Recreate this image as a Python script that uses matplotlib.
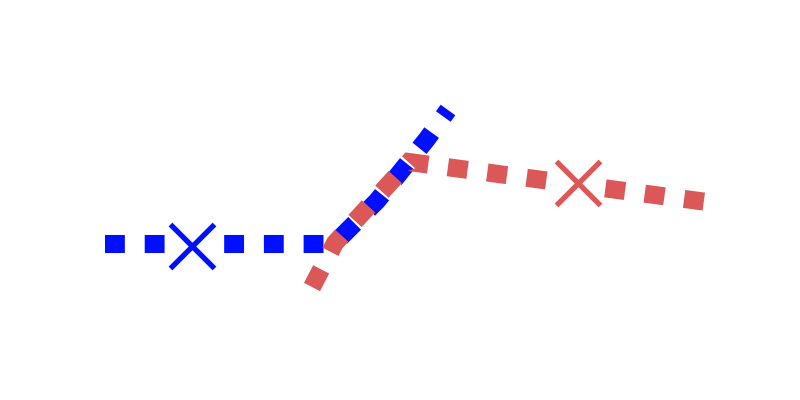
import matplotlib
matplotlib.use("Agg")
import matplotlib.pyplot as plt

# data (pixel-like units, y grows downward)
blue_x = [105, 334, 377, 427, 448]
blue_y = [244, 244, 201, 139, 110]
blue_mark_x = [192]
blue_mark_y = [246]

red_x = [312, 335, 409, 707]
red_y = [287, 243, 162, 202]
red_mark_x = [578]
red_mark_y = [183]

blue = "#0010ff"
red = "#dc5757"

fig = plt.figure(figsize=(8, 4), dpi=100)
ax = fig.add_axes([0, 0, 1, 1])

ax.plot(blue_x, blue_y, color=blue, lw=13, dashes=(1.1, 1.1),
        dash_capstyle="butt", dash_joinstyle="miter", zorder=2)
# white patch behind the cross hides the dash under it
ax.plot(blue_mark_x, blue_mark_y, linestyle="none", marker="s", ms=22,
        mfc="white", mec="white", zorder=2.5)
ax.plot(blue_mark_x, blue_mark_y, linestyle="none", marker="x",
        ms=32, mew=3.8, color=blue, zorder=4)

ax.plot(red_x, red_y, color=red, lw=13, dashes=(1.1, 1.1),
        dash_capstyle="butt", dash_joinstyle="miter", zorder=3)
ax.plot(red_mark_x, red_mark_y, linestyle="none", marker="s", ms=22,
        mfc="white", mec="white", zorder=3.5)
ax.plot(red_mark_x, red_mark_y, linestyle="none", marker="x",
        ms=32, mew=3.8, color=red, zorder=4)

ax.set_xlim(0, 800)
ax.set_ylim(400, 0)
ax.axis("off")

fig.savefig("out.png", dpi=100)
